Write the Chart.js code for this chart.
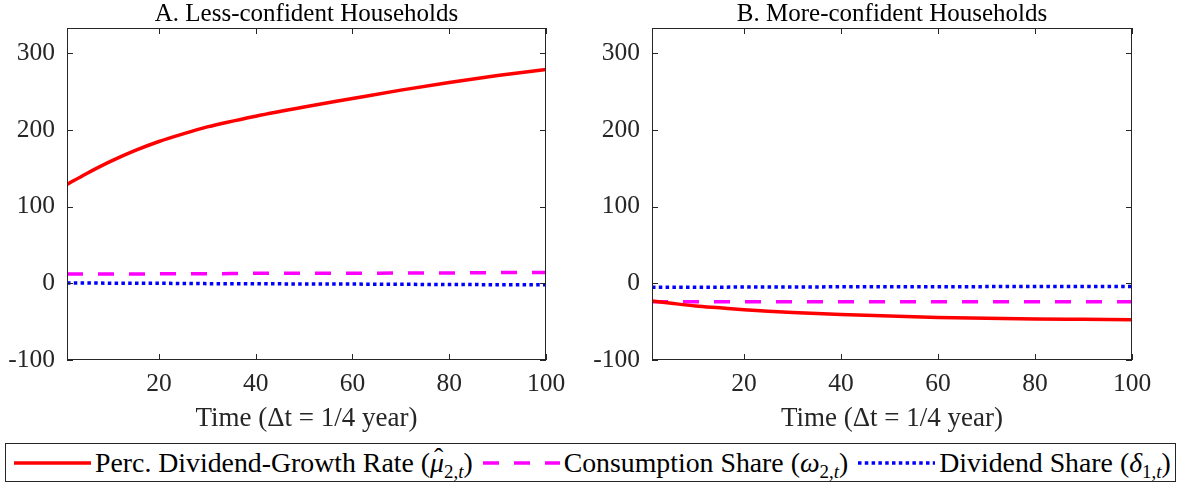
<!DOCTYPE html>
<html>
<head>
<meta charset="utf-8">
<title>Dividend growth perceptions</title>
<script src="https://cdn.jsdelivr.net/npm/chart.js@4.4.1/dist/chart.umd.min.js"></script>
<style>
  body { margin: 0; background: #fff; }
  #page { position: relative; width: 1183px; height: 486px; font-family: 'Liberation Serif', 'Times New Roman', serif; }
  .panel { position: absolute; top: 0; height: 436px; }
  #panelA { left: 0; width: 592px; }
  #panelB { left: 592px; width: 591px; }
  #legend {
    position: absolute; left: 5px; top: 443px; width: 1169px; height: 37px;
    border: 1px solid #262626; display: flex; align-items: center;
    font-size: 27.8px; color: #000; white-space: nowrap;
  }
  #legend .item { display: flex; align-items: center; margin-left: 8px; }
  #legend .item + .item { margin-left: 10px; }
  #legend svg { margin-right: 4px; }
  #legend sub { font-size: 0.68em; vertical-align: -0.3em; line-height: 0; }
  #legend .hat { position: relative; }
  #legend .hat .acc { position: absolute; left: 0.14em; top: -0.16em; font-style: normal; }
</style>
</head>
<body>
<div id="page">
  <div class="panel" id="panelA"><canvas id="chartA"></canvas></div>
  <div class="panel" id="panelB"><canvas id="chartB"></canvas></div>
  <div id="legend"></div>
</div>
<script>
// quarters after the shock
const time = [1, 5, 10, 15, 20, 25, 30, 40, 50, 60, 70, 80, 90, 100];

// A: less-confident households
const growthLess      = [129, 143, 159, 173, 185, 195, 204, 218, 230, 241, 252, 262, 271, 279];
const consumptionLess = [12, 12, 12, 12, 12.5, 12.5, 12.5, 13, 13, 13, 13.5, 13.5, 14, 14];
const dividendLess    = [0.5, 0.4, 0.2, 0, 0, -0.2, -0.4, -0.6, -0.8, -1, -1.3, -1.5, -1.8, -2];

// B: more-confident households
const growthMore      = [-23, -26, -29.5, -32, -34.5, -36.5, -38, -40.5, -42.5, -44.5, -45.5, -46.5, -47, -47.5];
const consumptionMore = [-24, -24, -24, -24, -24, -24, -24, -24, -24, -24, -24, -24, -24, -24];
const dividendMore    = [-5, -5, -5, -5, -4.8, -4.8, -4.7, -4.6, -4.5, -4.4, -4.3, -4.2, -4.1, -4];

const xTicks = [20, 40, 60, 80, 100];
const yTicks = [-100, 0, 100, 200, 300];

const seriesNames = ['Perc. Dividend-Growth Rate', 'Consumption Share', 'Dividend Share'];
const seriesSymbols = [
  '(<span class="hat"><i>μ</i><span class="acc">ˆ</span></span><sub>2,<i>t</i></sub>)',
  '(<i>ω</i><sub>2,<i>t</i></sub>)',
  '(<i>δ</i><sub>1,<i>t</i></sub>)'
];

const FONT = "'Liberation Serif', 'Times New Roman', serif";
const AXIS_COLOR = '#262626';

const lineStyles = [
  { color: '#ff0000', dash: [] },
  { color: '#ff00ff', dash: [16, 15] },
  { color: '#0000ff', dash: [3.5, 3.3] }
];

const toPoints = vals => time.map((t, i) => ({ x: t, y: vals[i] }));

// box around the axes with inward tick marks on all four sides
const boxTicks = {
  id: 'boxTicks',
  afterDatasetsDraw(chart) {
    const { ctx, chartArea: a, scales: { x, y } } = chart;
    const len = 6;
    ctx.save();
    ctx.strokeStyle = AXIS_COLOR;
    ctx.lineWidth = 1;
    ctx.beginPath();
    xTicks.forEach(v => {
      const px = Math.round(x.getPixelForValue(v)) + 0.5;
      ctx.moveTo(px, a.bottom); ctx.lineTo(px, a.bottom - len);
      ctx.moveTo(px, a.top); ctx.lineTo(px, a.top + len);
    });
    yTicks.forEach(v => {
      const py = Math.round(y.getPixelForValue(v)) + 0.5;
      ctx.moveTo(a.left, py); ctx.lineTo(a.left + len, py);
      ctx.moveTo(a.right, py); ctx.lineTo(a.right - len, py);
    });
    ctx.stroke();
    ctx.strokeRect(Math.round(a.left) + 0.5, Math.round(a.top) + 0.5,
                   Math.round(a.width) - 1, Math.round(a.height) - 1);
    ctx.restore();
  }
};

function makePanel(canvasId, title, series, axisWidth, padRight) {
  const datasets = series.map((vals, i) => ({
    label: seriesNames[i],
    data: toPoints(vals),
    borderColor: lineStyles[i].color,
    borderWidth: 3.5,
    borderDash: lineStyles[i].dash,
    borderCapStyle: 'butt',
    pointRadius: 0,
    fill: false,
    cubicInterpolationMode: 'monotone'
  }));

  return new Chart(document.getElementById(canvasId), {
    type: 'line',
    data: { datasets },
    options: {
      responsive: true,
      maintainAspectRatio: false,
      animation: false,
      events: [],
      layout: { padding: { left: 0, right: padRight, top: 0, bottom: 0 } },
      plugins: {
        legend: { display: false },
        tooltip: { enabled: false },
        title: {
          display: true,
          text: title,
          fullSize: false,
          color: '#000',
          font: { family: FONT, size: 25, weight: 'normal', lineHeight: 1.12 },
          padding: 0
        }
      },
      scales: {
        x: {
          type: 'linear',
          min: 1,
          max: 100,
          afterBuildTicks: s => { s.ticks = xTicks.map(v => ({ value: v })); },
          afterFit: s => { s.height = 76; },
          grid: { display: false, drawTicks: false },
          border: { display: false },
          ticks: {
            padding: 9,
            color: AXIS_COLOR,
            maxRotation: 0,
            autoSkip: false,
            font: { family: FONT, size: 25.5 }
          },
          title: {
            display: true,
            text: 'Time (Δt = 1/4 year)',
            color: AXIS_COLOR,
            font: { family: FONT, size: 27 },
            padding: { top: 0, bottom: 1 }
          }
        },
        y: {
          min: -100,
          max: 333,
          afterBuildTicks: s => { s.ticks = yTicks.map(v => ({ value: v })); },
          afterFit: s => { s.width = axisWidth; },
          grid: { display: false, drawTicks: false },
          border: { display: false },
          ticks: {
            padding: 12,
            color: AXIS_COLOR,
            font: { family: FONT, size: 25.5 },
            callback: v => String(v)
          }
        }
      }
    },
    plugins: [boxTicks]
  });
}

const chartA = makePanel('chartA', 'A. Less-confident Households',
  [growthLess, consumptionLess, dividendLess], 67, 46);
const chartB = makePanel('chartB', 'B. More-confident Households',
  [growthMore, consumptionMore, dividendMore], 60, 51);

// shared legend under both panels, built from the dataset styles
const legendEl = document.getElementById('legend');
chartA.data.datasets.forEach((ds, i) => {
  const item = document.createElement('span');
  item.className = 'item';
  const dash = ds.borderDash.length ? ` stroke-dasharray="${ds.borderDash.join(' ')}"` : '';
  item.innerHTML =
    `<svg width="77" height="10"><line x1="0" y1="5" x2="77" y2="5" stroke="${ds.borderColor}"` +
    ` stroke-width="${ds.borderWidth}"${dash}/></svg>` +
    `<span>${ds.label} ${seriesSymbols[i]}</span>`;
  legendEl.appendChild(item);
});
</script>
</body>
</html>
